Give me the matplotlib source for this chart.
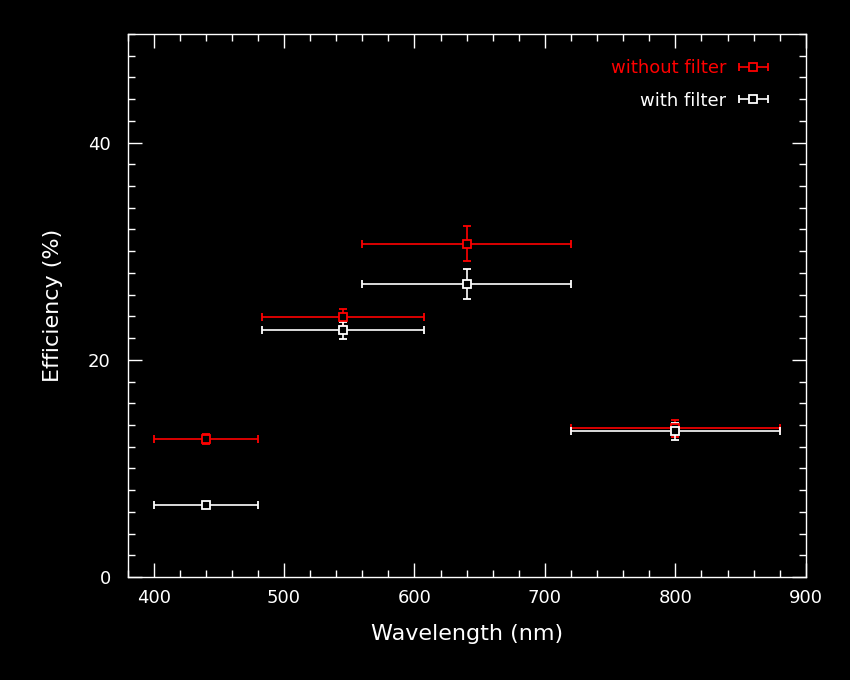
import matplotlib

matplotlib.use("Agg")
import matplotlib.pyplot as plt
from matplotlib.legend_handler import HandlerErrorbar
from matplotlib.ticker import MultipleLocator

# without filter (red)
wl_nofilt = [440, 545, 640, 800]
wl_lo_nofilt = [400, 483, 560, 720]
wl_hi_nofilt = [480, 607, 720, 880]
eff_nofilt = [12.7, 23.9, 30.7, 13.7]
err_nofilt = [0.5, 0.8, 1.6, 0.8]

# with filter (white)
wl_filt = [440, 545, 640, 800]
wl_lo_filt = [400, 483, 560, 720]
wl_hi_filt = [480, 607, 720, 880]
eff_filt = [6.6, 22.7, 27.0, 13.4]
err_filt = [0.2, 0.8, 1.4, 0.75]

FG = "white"
RED = "#ff0000"

fig = plt.figure(figsize=(8.5, 6.8), dpi=100, facecolor="black")
ax = fig.add_axes([0.150, 0.1515, 0.798, 0.7985], facecolor="black")


def _plot(x, lo, hi, y, yerr, color, label):
    xerr = [[xi - l for xi, l in zip(x, lo)], [h - xi for xi, h in zip(x, hi)]]
    return ax.errorbar(
        x, y, xerr=xerr, yerr=yerr, fmt="s", ms=6, mfc="black", mec=color,
        mew=1.3, color=color, ecolor=color, elinewidth=1.2, capsize=3,
        capthick=1.2, label=label,
    )


h1 = _plot(wl_nofilt, wl_lo_nofilt, wl_hi_nofilt, eff_nofilt, err_nofilt, RED, "without filter")
h2 = _plot(wl_filt, wl_lo_filt, wl_hi_filt, eff_filt, err_filt, FG, "with filter")

ax.set_xlim(380, 900)
ax.set_ylim(0, 50)
ax.xaxis.set_major_locator(MultipleLocator(100))
ax.xaxis.set_minor_locator(MultipleLocator(20))
ax.yaxis.set_major_locator(MultipleLocator(20))
ax.yaxis.set_minor_locator(MultipleLocator(2))
ax.tick_params(which="both", direction="in", top=True, right=True, colors=FG,
               labelsize=13, width=1)
ax.tick_params(which="major", length=10)
ax.tick_params(axis="x", which="major", pad=9)
ax.tick_params(axis="y", which="major", pad=12)
ax.tick_params(which="minor", length=5)
for s in ax.spines.values():
    s.set_color(FG)
    s.set_linewidth(1)

ax.set_xlabel("Wavelength (nm)", color=FG, fontsize=16, labelpad=12)
ax.set_ylabel("Efficiency (%)", color=FG, fontsize=16, labelpad=18)

leg = ax.legend(
    handles=[h1, h2], loc="upper right", bbox_to_anchor=(0.984, 1.0),
    frameon=False, markerfirst=False,
    fontsize=13, handlelength=1.8, handletextpad=0.6, labelspacing=0.8,
    borderaxespad=1.0,
    handler_map={type(h1): HandlerErrorbar(xerr_size=0.8, yerr_size=0.0)},
)
for txt, c in zip(leg.get_texts(), [RED, FG]):
    txt.set_color(c)

fig.savefig("out.png", dpi=100, facecolor="black")
